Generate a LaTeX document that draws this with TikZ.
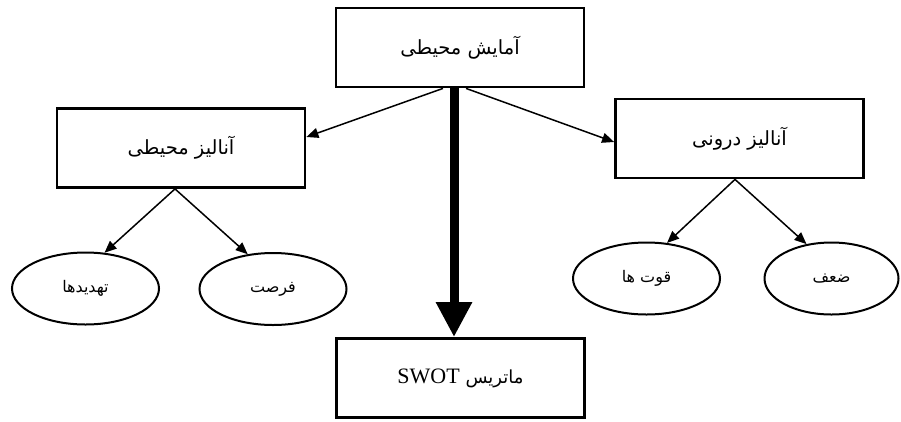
\documentclass[tikz,border=0pt]{standalone}
\usepackage{fontspec}
\setmainfont{Liberation Serif}
\newfontfamily\farsifont[Script=Arabic]{DejaVu Sans}
\TeXXeTstate=1
\usepackage{tikz}
\usetikzlibrary{shapes.geometric, arrows.meta, positioning, calc}

\newcommand{\farsitext}[1]{{\farsifont\beginR #1\endR}}

\begin{document}
\begin{tikzpicture}[
    x=1pt, y=-1pt,
    % Styles
    box/.style={rectangle, draw=black, line width=2.8pt, minimum width=248pt, minimum height=79pt, inner sep=0pt, align=center, font=\fontsize{19.5}{23}\selectfont},
    leaf/.style={ellipse, draw=black, line width=2pt, minimum width=147pt, minimum height=72pt, inner sep=0pt, align=center, font=\fontsize{16}{19}\selectfont},
    arrow/.style={-{Triangle[length=12pt, width=10pt]}, line width=1.5pt},
    mainarrow/.style={-{Triangle[length=35pt, width=34pt]}, line width=9pt}
]
    \useasboundingbox (0,0) rectangle (901,421);

    % Top level
    \node[box] (env) at (460,47.5) {\farsitext{آمایش محیطی}};

    % Two analyses
    \node[box] (ext) at (181,148) {\farsitext{آنالیز محیطی}};
    \node[box] (int) at (739.5,138.5) {\farsitext{آنالیز درونی}};

    % Result
    \node[box] (swot) at (460.5,378) {{\farsifont\fontsize{18}{22}\selectfont\beginR ماتریس \beginL{\rmfamily\fontsize{22}{26}\selectfont SWOT}\endL\endR}};

    % Leaves
    \node[leaf] (threat) at (85.5,288.5) {\farsitext{تهدیدها}};
    \node[leaf] (opport) at (273,289) {\farsitext{فرصت}};
    \node[leaf] (strength) at (646.5,278.5) {\farsitext{قوت ها}};
    \node[leaf, minimum width=134pt] (weak) at (831.5,278.5) {\farsitext{ضعف}};

    % Arrows
    \draw[arrow] ([xshift=-17pt]env.south) -- ([yshift=11pt]ext.east);
    \draw[arrow] ([xshift=6pt]env.south) -- ([yshift=-3.5pt]int.west);
    \draw[mainarrow] ([xshift=-6pt]env.south) -- ([xshift=-6.5pt]swot.north);

    \draw[arrow] ([xshift=-6pt]ext.south) -- (threat.62);
    \draw[arrow] ([xshift=-6pt]ext.south) -- (opport.126);
    \draw[arrow] ([xshift=-4.5pt]int.south) -- (strength.60);
    \draw[arrow] ([xshift=-4.5pt]int.south) -- (weak.126);
\end{tikzpicture}
\end{document}
